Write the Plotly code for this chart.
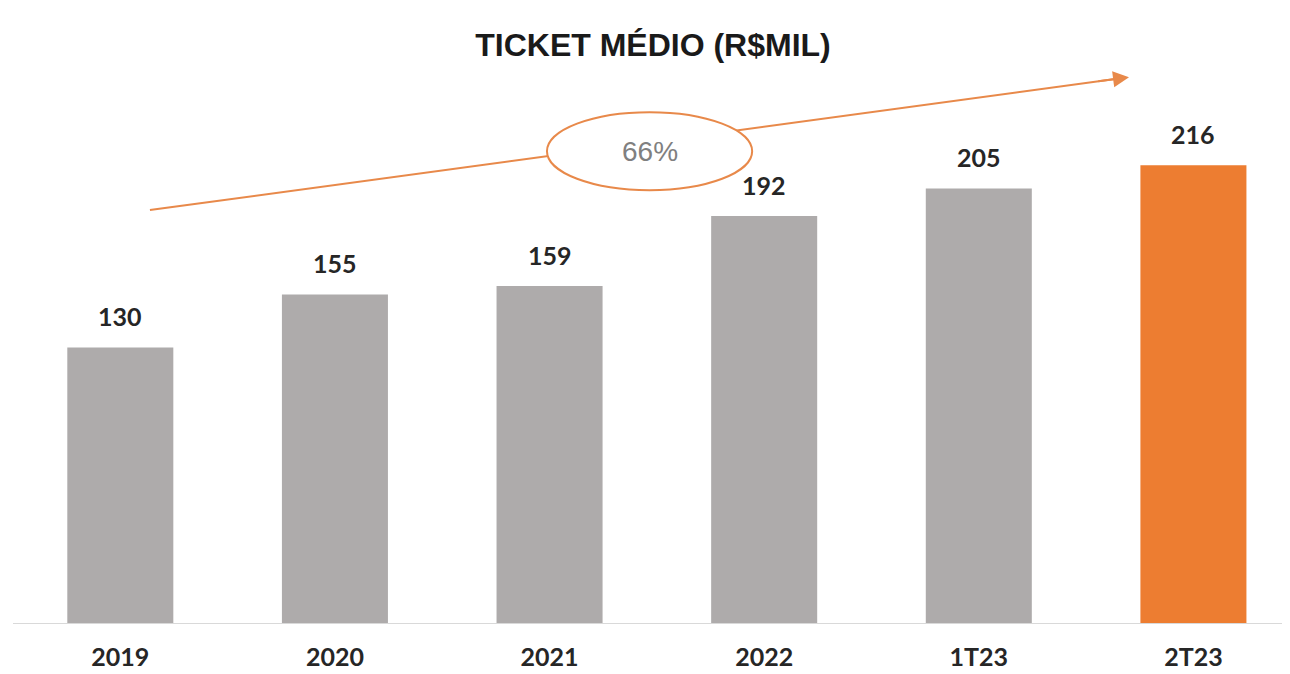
import plotly.graph_objects as go

categories = ["2019", "2020", "2021", "2022", "1T23", "2T23"]
ticket = [130, 155, 159, 192, 205, 216]
bar_colors = ["#aeabab", "#aeabab", "#aeabab", "#aeabab", "#aeabab", "#ed7d31"]
growth_label = "66%"

fig = go.Figure()

fig.add_trace(go.Bar(
    x=list(range(len(categories))), y=ticket,
    marker=dict(color=bar_colors, line=dict(width=0)),
    hoverinfo="skip", showlegend=False,
))

# value labels above bars
for i, v in enumerate(ticket):
    fig.add_annotation(
        x=i, y=v, text=f"<b>{v}</b>", showarrow=False,
        yanchor="bottom", yshift=14,
        font=dict(family="Lato, sans-serif", size=25, color="#262626"),
    )

# growth arrow + ellipse
fig.add_shape(type="line", xref="x", yref="y",
              x0=0.138, y0=194.8, x1=4.67, y1=257.1,
              line=dict(color="#e8894a", width=2), layer="above")
fig.add_shape(type="circle", xref="x", yref="y",
              x0=1.988, x1=2.944, y0=204.2, y1=241,
              fillcolor="white", line=dict(color="#e8894a", width=2), layer="above")
fig.add_annotation(
    x=4.70, y=257.5, ax=4.55, ay=255.5, axref="x", ayref="y",
    xref="x", yref="y", text="", showarrow=True,
    arrowhead=2, arrowsize=1.6, arrowwidth=2, arrowcolor="#e8894a",
)
fig.add_annotation(
    x=2.466, y=222.6, text=growth_label, showarrow=False,
    font=dict(family="Liberation Sans, Arial, sans-serif", size=28, color="#808080"),
)

fig.update_layout(
    width=1290, height=674,
    margin=dict(l=5, r=8, t=52, b=59),
    paper_bgcolor="white", plot_bgcolor="white",
    bargap=0.506,
    title=dict(
        text="<b>TICKET MÉDIO (R$MIL)</b>",
        x=0.5, xanchor="center", y=0.945, yanchor="middle",
        font=dict(family="Liberation Sans, Arial, sans-serif", size=32, color="#1a1a1a"),
    ),
)
fig.update_xaxes(
    range=[-0.5, 5.45],
    tickmode="array", tickvals=list(range(len(categories))),
    ticktext=[f"<b>{c}</b>" for c in categories],
    tickfont=dict(family="Lato, sans-serif", size=25, color="#262626"),
    ticks="", ticklabelstandoff=12,
    showgrid=False, zeroline=False,
    showline=True, linecolor="#d9d9d9", linewidth=1,
)
fig.update_yaxes(
    range=[0, 265.6], visible=False, showgrid=False, zeroline=False,
)

fig.write_html("out.html")
